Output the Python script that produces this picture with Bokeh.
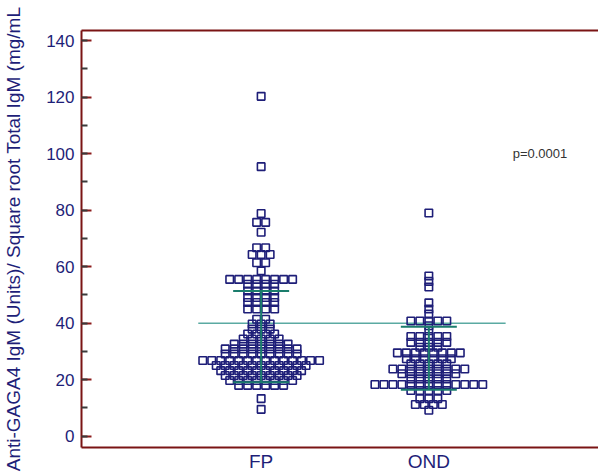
from bokeh.plotting import figure
from bokeh.models import Range1d, FixedTicker, SingleIntervalTicker, Label, LinearAxis
from bokeh.embed import file_html
from bokeh.resources import INLINE

groups = ["FP", "OND"]
group_pos = [1, 2]

fp_values = [
    120.3, 95.4, 78.8, 75.7, 75.7, 72.2, 66.7, 66.7, 64.3, 64.3, 64.3, 61.4, 61.4, 58.5,
    55.5, 55.5, 55.5, 55.5, 55.5, 55.5, 55.5, 55.5,
    53.8, 53.8, 53.8, 53.8,
    51.4, 51.4, 51.4, 51.4,
    49.1, 49.1, 49.1, 49.1,
    47.3, 47.3, 47.3, 47.3,
    45.0, 45.0, 45.0, 45.0,
    41.4, 41.4,
    39.7, 39.7, 39.7,
    37.9, 37.9, 37.9,
    36.2, 36.2, 36.2, 36.2,
    34.4, 34.4, 34.4, 34.4, 34.4,
    32.6, 32.6, 32.6, 32.6, 32.6, 32.6, 32.6,
    30.9, 30.9, 30.9, 30.9, 30.9, 30.9, 30.9, 30.9, 30.9,
    29.1, 29.1, 29.1, 29.1, 29.1, 29.1, 29.1, 29.1, 29.1,
    26.8, 26.8, 26.8, 26.8, 26.8, 26.8, 26.8, 26.8, 26.8, 26.8, 26.8, 26.8, 26.8, 26.8,
    25.0, 25.0, 25.0, 25.0, 25.0, 25.0, 25.0, 25.0, 25.0, 25.0, 25.0,
    23.2, 23.2, 23.2, 23.2, 23.2, 23.2, 23.2, 23.2, 23.2, 23.2,
    21.5, 21.5, 21.5, 21.5, 21.5, 21.5, 21.5, 21.5, 21.5,
    19.7, 19.7, 19.7, 19.7, 19.7, 19.7, 19.7, 19.7,
    18.0, 18.0, 18.0, 18.0, 18.0, 18.0,
    13.3, 9.5,
]

ond_values = [
    79.0, 56.7, 54.8, 52.8, 47.2, 45.0, 43.2,
    40.8, 40.8, 40.8, 40.8, 40.8,
    39.1, 37.3,
    35.3, 35.3, 35.3, 35.3, 35.3,
    33.2, 33.2, 33.2, 33.2, 33.2,
    31.5, 31.5, 31.5,
    29.5, 29.5, 29.5, 29.5, 29.5, 29.5, 29.5, 29.5,
    27.4, 27.4, 27.4, 27.4, 27.4, 27.4,
    25.6, 25.6, 25.6, 25.6, 25.6,
    23.8, 23.8, 23.8, 23.8, 23.8, 23.8, 23.8, 23.8, 23.8,
    22.1, 22.1, 22.1, 22.1, 22.1, 22.1, 22.1,
    20.3, 20.3, 20.3, 20.3, 20.3,
    18.3, 18.3, 18.3, 18.3, 18.3, 18.3, 18.3, 18.3, 18.3, 18.3, 18.3, 18.3, 18.3,
    16.2, 16.2, 16.2, 16.2, 16.2,
    13.3, 13.3, 13.3,
    11.2, 11.2, 11.2, 11.2,
    9.2,
]

sd_upper = [51.4, 38.7]
sd_lower = [19.1, 16.4]
cutoff = 40
p_text = "p=0.0001"
y_label = "Anti-GAGA4 IgM (Units)/ Square root Total IgM (mg/mL"

NAVY = "#1e1e78"
MAROON = "#7a1414"


def swarm(vals, center, step):
    rows = {}
    for v in vals:
        rows[v] = rows.get(v, 0) + 1
    xs, ys = [], []
    for v, n in rows.items():
        for i in range(n):
            xs.append(center + (i - (n - 1) / 2) * step)
            ys.append(v)
    return xs, ys


px_per_unit = 168.0
x_start = 1 - 180 / px_per_unit
x_end = x_start + 518 / px_per_unit

p = figure(width=598, height=474,
           x_range=Range1d(x_start, x_end), y_range=Range1d(-4.0, 143.6),
           output_backend="svg", toolbar_location=None,
           min_border_left=80, min_border_top=30, min_border_bottom=25, min_border_right=0)
p.grid.visible = False
p.outline_line_color = None
p.background_fill_color = "white"
p.border_fill_color = "white"

ya = p.left[0]
xa = p.below[0]

# top frame line only (right side falls outside the picture in the original)
top = LinearAxis(ticker=FixedTicker(ticks=[]), axis_line_color=MAROON, axis_line_width=2,
                 major_tick_in=0, major_tick_out=0, minor_tick_in=0, minor_tick_out=0,
                 major_label_text_font_size="0px")
p.add_layout(top, "above")

ya.ticker = SingleIntervalTicker(interval=20, num_minor_ticks=2)
ya.axis_line_color = MAROON
ya.axis_line_width = 2
ya.major_tick_in = 10
ya.major_tick_out = 0
ya.minor_tick_in = 6
ya.minor_tick_out = 0
ya.major_tick_line_color = "#8b1a1a"
ya.major_tick_line_width = 2
ya.minor_tick_line_color = "#3a3a3a"
ya.minor_tick_line_width = 2
ya.major_label_text_font = "Liberation Sans"
ya.major_label_text_font_size = "17px"
ya.major_label_text_color = NAVY
ya.major_label_standoff = 7
ya.axis_label = y_label
ya.axis_label_text_font = "Liberation Sans"
ya.axis_label_text_font_size = "19px"
ya.axis_label_text_font_style = "normal"
ya.axis_label_text_color = NAVY
ya.axis_label_standoff = 19

xa.ticker = FixedTicker(ticks=group_pos)
xa.major_label_overrides = {pos: g for pos, g in zip(group_pos, groups)}
xa.axis_line_color = MAROON
xa.axis_line_width = 2
xa.major_tick_in = 0
xa.major_tick_out = 0
xa.minor_tick_in = 0
xa.minor_tick_out = 0
xa.major_label_text_font = "Liberation Sans"
xa.major_label_text_font_size = "19px"
xa.major_label_text_color = NAVY
xa.major_label_standoff = 3

# cutoff reference line
p.segment(x0=[0.625], y0=[cutoff], x1=[2.458], y1=[cutoff], line_color="#5aaaa2", line_width=1.5)

step = 9 / px_per_unit
for pos, vals in zip(group_pos, [fp_values, ond_values]):
    xs, ys = swarm(vals, pos, step)
    p.scatter(xs, ys, marker="square", size=7.5, line_color=NAVY, fill_color=None, line_width=1.6)

cap = 0.167
p.segment(x0=group_pos, y0=sd_lower, x1=group_pos, y1=sd_upper, line_color="#1b7d6c", line_width=2)
p.segment(x0=[g - cap for g in group_pos], y0=sd_upper, x1=[g + cap for g in group_pos], y1=sd_upper,
          line_color="#1b7d6c", line_width=2)
p.segment(x0=[g - cap for g in group_pos], y0=sd_lower, x1=[g + cap for g in group_pos], y1=sd_lower,
          line_color="#1b7d6c", line_width=2)

p.add_layout(Label(x=2.5, y=100.2, text=p_text, text_font="Liberation Sans", text_font_size="13px",
                   text_color="#333333", text_baseline="middle"))

open("out.html", "w").write(file_html(p, INLINE))
